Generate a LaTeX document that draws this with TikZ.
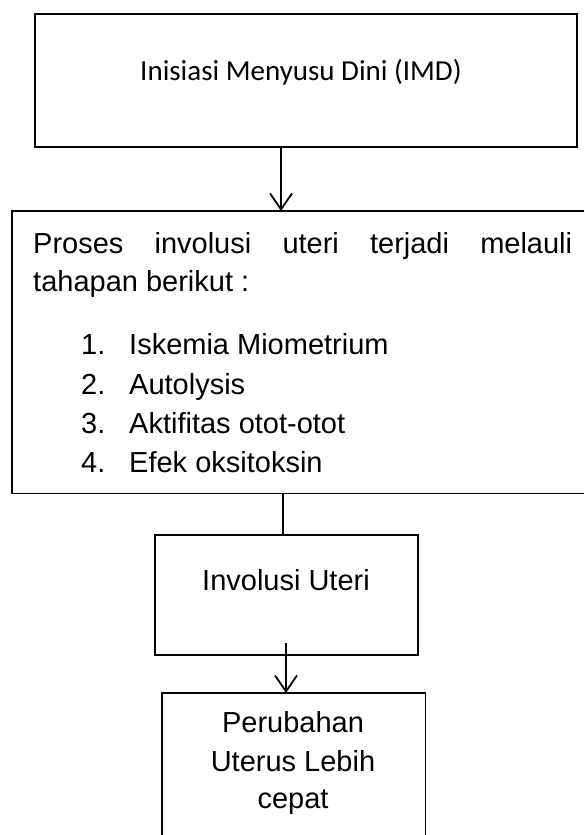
\documentclass[tikz,border=0pt]{standalone}
\usepackage{fontspec}
\setmainfont{Liberation Sans}
\newfontfamily\calibrifont{Carlito}
\usetikzlibrary{arrows.meta}
\begin{document}
\begin{tikzpicture}[x=1pt,y=-1pt,
  boxline/.style={line width=1.8pt},
  frame/.style={draw, boxline, inner sep=0pt, anchor=north west},
  area/.style={inner sep=0pt, anchor=north west},
  txt/.style={inner sep=0pt, font=\fontsize{29}{38}\selectfont},
  arr/.style={line width=1.8pt, -{Straight Barb[length=16pt,width=22pt,line width=1.8pt]}},
  conn/.style={line width=1.8pt}]
\useasboundingbox (0,0) rectangle (584,835);

% boxes
\node[frame, minimum width=542pt, minimum height=133pt] (box1) at (34,13) {};
\node[area, minimum width=572pt, minimum height=282pt] (box2) at (12,211) {};
\draw[boxline] (box2.north east) -- (box2.north west) -- (box2.south west) -- (box2.south east);
\node[frame, minimum width=263pt, minimum height=120pt] (box3) at (154,534) {};
\node[area, minimum width=263pt, minimum height=142pt] (box4) at (162,693) {};
\draw[boxline] (box4.south west) -- (box4.north west) -- (box4.north east) -- (box4.south east);

% texts
\node[txt, anchor=base, font=\calibrifont\fontsize{29}{35}\selectfont] (t1) at (301,80) {Inisiasi Menyusu Dini (IMD)};
\node[txt, anchor=base west] (p1) at (33,253) {\makebox[539pt][s]{Proses involusi uteri terjadi melauli}};
\node[txt, anchor=base west] (p2) at (33,291) {tahapan berikut :};
\node[txt, anchor=base west] (n1) at (81,354) {1.};
\node[txt, anchor=base west] (i1) at (129,354) {Iskemia Miometrium};
\node[txt, anchor=base west] (n2) at (81,394) {2.};
\node[txt, anchor=base west] (i2) at (129,394) {Autolysis};
\node[txt, anchor=base west] (n3) at (81,433) {3.};
\node[txt, anchor=base west] (i3) at (129,433) {Aktifitas otot-otot};
\node[txt, anchor=base west] (n4) at (81,472) {4.};
\node[txt, anchor=base west] (i4) at (129,472) {Efek oksitoksin};
\node[txt, anchor=base] (t3) at (286,590) {Involusi Uteri};
\node[txt, anchor=base] (t4a) at (293,732) {Perubahan};
\node[txt, anchor=base] (t4b) at (293,771) {Uterus Lebih};
\node[txt, anchor=base] (t4c) at (293,808) {cepat};

% connectors
\coordinate (c1) at (281,0);
\coordinate (c2) at (283,0);
\coordinate (c3) at (286,0);
\coordinate (c3s) at (0,643);
\draw[arr] (box1.south -| c1) -- (box2.north -| c1);
\draw[conn] (box2.south -| c2) -- (box3.north -| c2);
\draw[arr] (c3 |- c3s) -- (box4.north -| c3);
\end{tikzpicture}
\end{document}
